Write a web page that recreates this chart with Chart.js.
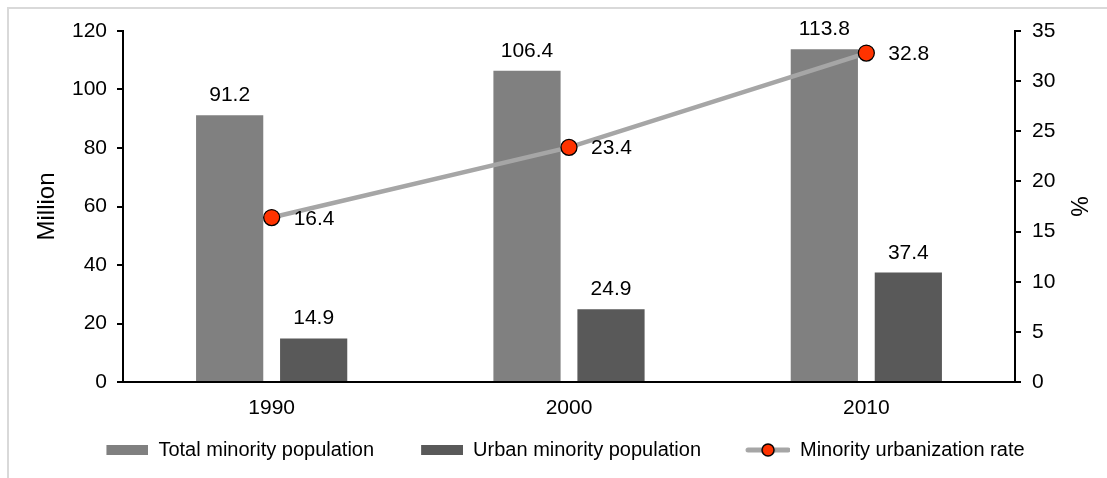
<!DOCTYPE html>
<html>
<head>
<meta charset="utf-8">
<script src="https://cdn.jsdelivr.net/npm/chart.js@4/dist/chart.umd.min.js"></script>
<style>
  html, body { margin: 0; padding: 0; background: #fff; overflow: hidden; }
  #frame { position: absolute; left: 7px; top: 7px; width: 1300px; height: 700px;
           border-left: 2px solid #d9d9d9; border-top: 2px solid #d9d9d9; }
  #chart { position: absolute; left: 0; top: 0; }
</style>
</head>
<body>
<div id="frame"></div>
<canvas id="chart" width="1107" height="478"></canvas>
<script>
// data
const years = ['1990', '2000', '2010'];
const totalPop = [91.2, 106.4, 113.8];   // million
const urbanPop = [14.9, 24.9, 37.4];     // million
const urbanRate = [16.4, 23.4, 32.8];    // %
const seriesNames = ['Total minority population', 'Urban minority population', 'Minority urbanization rate'];

const FONT = '"Liberation Sans", Arial, sans-serif';
const colTotal = '#808080';
const colUrban = '#595959';
const colLine = '#a6a6a6';
const colDot = '#ff3300';

// legend keys: transparent gap on the left keeps the items apart
// without making the legend taller
const KEY_W = 79;
function boxImg(color) {
    let c = document.createElement('canvas');
    c.width = KEY_W; c.height = 10;
    let g = c.getContext('2d');
    g.fillStyle = color;
    g.fillRect(KEY_W - 42, 0, 42, 10);
    return c;
}
function lineImg() {
    let c = document.createElement('canvas');
    c.width = KEY_W; c.height = 18;
    let g = c.getContext('2d');
    let x0 = KEY_W - 45;
    g.strokeStyle = colLine; g.lineWidth = 5; g.lineCap = 'round';
    g.beginPath(); g.moveTo(x0 + 3, 9); g.lineTo(KEY_W - 2, 9); g.stroke();
    g.beginPath(); g.arc(x0 + 23, 9, 6, 0, Math.PI * 2);
    g.fillStyle = colDot; g.fill();
    g.lineWidth = 1.5; g.strokeStyle = '#000'; g.stroke();
    return c;
}

// value labels (no datalabels plugin available)
const valueLabels = {
    id: 'valueLabels',
    afterDatasetsDraw(chart) {
        let ctx = chart.ctx;
        ctx.save();
        ctx.font = '21px ' + FONT;
        ctx.fillStyle = '#000';
        ctx.textBaseline = 'alphabetic';
        chart.data.datasets.forEach((ds, i) => {
            let meta = chart.getDatasetMeta(i);
            meta.data.forEach((el, j) => {
                let txt = ds.data[j].toFixed(1);
                if (ds.type === 'line') {
                    ctx.textAlign = 'left';
                    ctx.fillText(txt, el.x + 22, el.y + 7);
                } else {
                    ctx.textAlign = 'center';
                    ctx.fillText(txt, el.x, el.y - 14);
                }
            });
        });
        ctx.restore();
    }
};

new Chart(document.getElementById('chart'), {
    data: {
        labels: years,
        datasets: [
            {
                type: 'bar', label: seriesNames[0], data: totalPop, yAxisID: 'y',
                backgroundColor: colTotal, order: 1,
                categoryPercentage: 0.565, barPercentage: 0.8
            },
            {
                type: 'bar', label: seriesNames[1], data: urbanPop, yAxisID: 'y',
                backgroundColor: colUrban, order: 1,
                categoryPercentage: 0.565, barPercentage: 0.8
            },
            {
                type: 'line', label: seriesNames[2], data: urbanRate, yAxisID: 'y2',
                borderColor: colLine, borderWidth: 4.5, tension: 0,
                pointRadius: 8, pointBackgroundColor: colDot,
                pointBorderColor: '#000', pointBorderWidth: 1.3, order: 0
            }
        ]
    },
    options: {
        responsive: false,
        animation: false,
        layout: { padding: { left: 0, right: 13, top: 31, bottom: 8 } },
        scales: {
            x: {
                offset: true,
                grid: { display: true, drawOnChartArea: false, drawTicks: false },
                border: { display: true, color: '#000', width: 2 },
                ticks: { color: '#000', font: { family: FONT, size: 21 }, padding: 14 },
                afterFit(s) { s.height = 48; }
            },
            y: {
                position: 'left', min: 0, max: 120,
                ticks: { stepSize: 20, color: '#000', font: { family: FONT, size: 21 }, padding: 10 },
                grid: { drawOnChartArea: false, drawTicks: true, tickLength: 6, color: '#000', lineWidth: 2 },
                border: { display: true, color: '#000', width: 2 },
                title: { display: true, text: 'Million', color: '#000',
                         font: { family: FONT, size: 24 }, padding: { top: 33, bottom: 0 } },
                afterFit(s) { s.width = 123; }
            },
            y2: {
                position: 'right', min: 0, max: 35,
                ticks: { stepSize: 5, color: '#000', font: { family: FONT, size: 21 }, padding: 11 },
                grid: { drawOnChartArea: false, drawTicks: true, tickLength: 6, color: '#000', lineWidth: 2 },
                border: { display: true, color: '#000', width: 2 },
                title: { display: true, text: '%', color: '#000',
                         font: { family: FONT, size: 23 }, padding: { top: 3, bottom: 0 } },
                afterFit(s) { s.width = 79; }
            }
        },
        plugins: {
            tooltip: { enabled: false },
            legend: {
                position: 'bottom',
                labels: {
                    usePointStyle: true,
                    pointStyleWidth: KEY_W,
                    padding: 10,
                    color: '#000',
                    font: { family: FONT, size: 20 },
                    generateLabels() {
                        let imgs = [boxImg(colTotal), boxImg(colUrban), lineImg()];
                        return seriesNames.map((name, i) => ({
                            text: name, pointStyle: imgs[i], fillStyle: 'transparent',
                            strokeStyle: 'transparent', lineWidth: 0, hidden: false,
                            datasetIndex: i, fontColor: '#000'
                        }));
                    }
                }
            }
        }
    },
    plugins: [valueLabels]
});
</script>
</body>
</html>
